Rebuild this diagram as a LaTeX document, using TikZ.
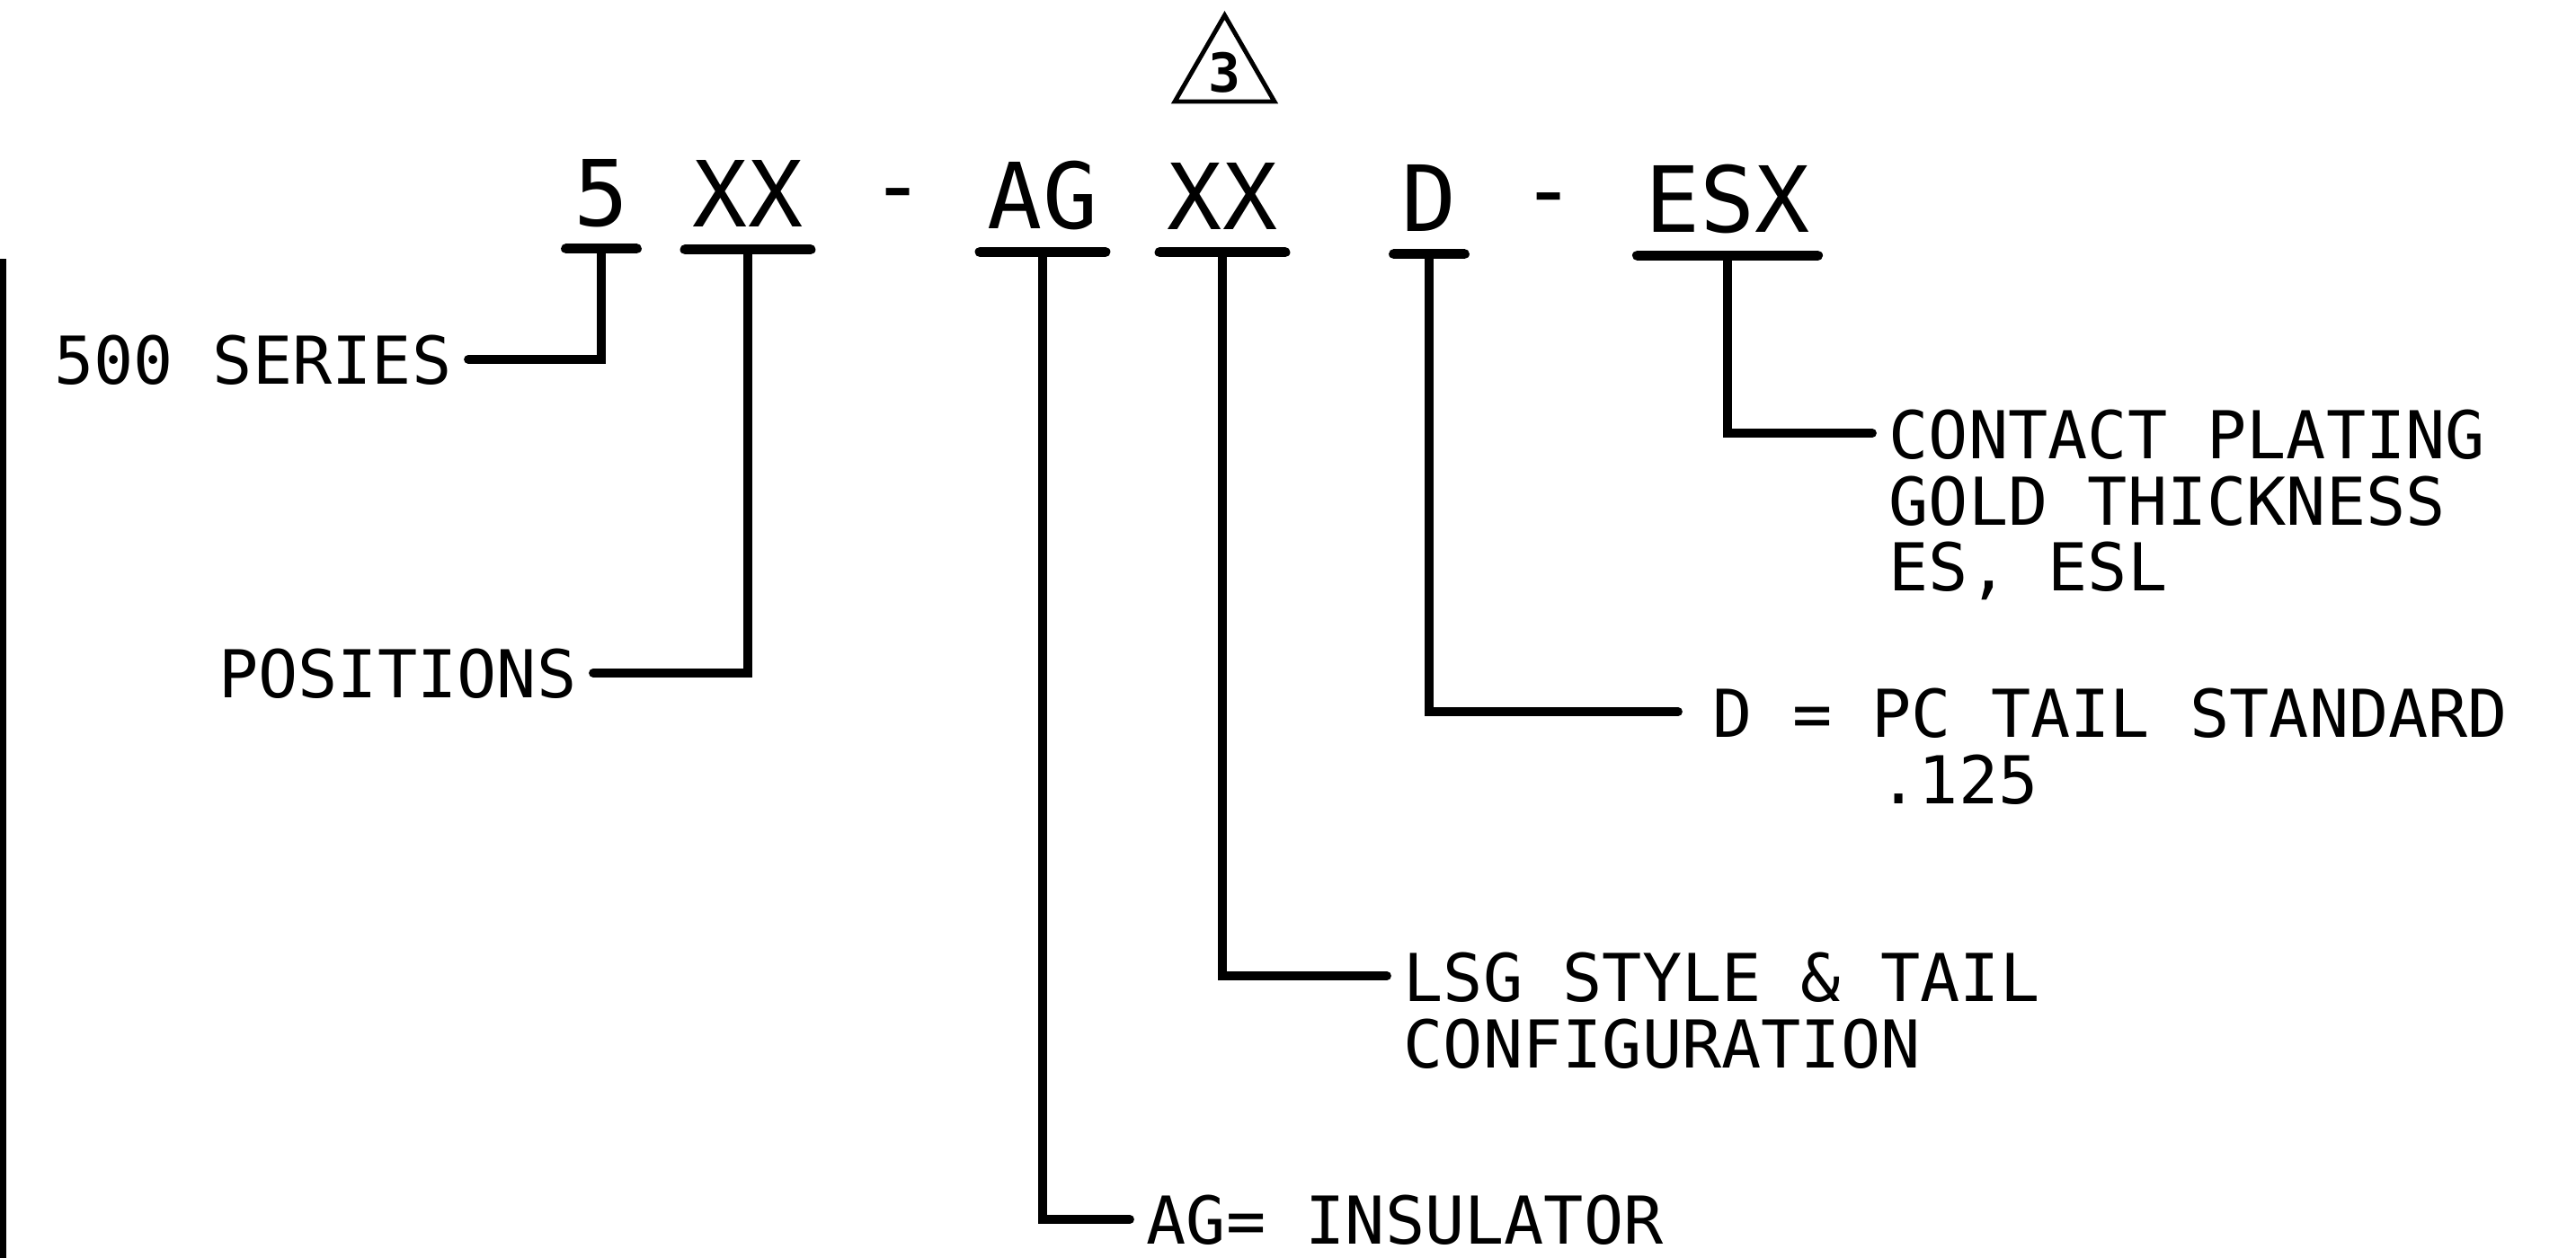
\documentclass[tikz,border=0pt]{standalone}
\usepackage{fontspec}
\usetikzlibrary{shapes.geometric}
\newfontfamily\plotfont{DejaVu Sans Mono}
\begin{document}
\begin{tikzpicture}[
    code/.style={font=\plotfont\fontsize{28.9}{30}\selectfont, inner xsep=0.08cm, inner ysep=0.25cm, text depth=0pt},
    hyph/.style={font=\plotfont\fontsize{28.9}{30}\selectfont, inner sep=0pt, anchor=base},
    lbl/.style={font=\plotfont\fontsize{20.9}{21}\selectfont, inner xsep=0.18cm, inner ysep=0pt, text depth=0pt, align=left},
    bar/.style={line width=3.2pt, line cap=round},
    lead/.style={line width=2.8pt, line cap=round, line join=miter}
  ]
    \useasboundingbox (0,0) rectangle (28.66,-14.00);

    % border at the left
    \draw[line width=2pt] (0.035,-2.88) -- (0.035,-14.00);

    % revision mark
    \node[draw, regular polygon, regular polygon sides=3, minimum size=1.28cm, inner sep=0pt, line width=1.4pt, font=\plotfont\bfseries\fontsize{17}{17}\selectfont] (rev) at (13.625,-0.81) {3};

    % part number
    \node[code] (c5) at (6.69,-2.14) {5};
    \node[code] (cpos) at (8.32,-2.15) {XX};
    \node[hyph] (h1) at (9.99,-2.41) {-};
    \node[code] (cins) at (11.60,-2.17) {AG};
    \node[code] (cstyle) at (13.60,-2.18) {XX};
    \node[code] (ctail) at (15.90,-2.20) {D};
    \node[hyph] (h2) at (17.23,-2.46) {-};
    \node[code] (cplate) at (19.22,-2.21) {ESX};

    \draw[bar] (c5.south west) -- (c5.south east);
    \draw[bar] (cpos.south west) -- (cpos.south east);
    \draw[bar] (cins.south west) -- (cins.south east);
    \draw[bar] (cstyle.south west) -- (cstyle.south east);
    \draw[bar] (ctail.south west) -- (ctail.south east);
    \draw[bar] (cplate.south west) -- (cplate.south east);

    % callouts
    \node[lbl, anchor=east] (l500) at (5.21,-4.00) {500 SERIES};
    \node[lbl, anchor=east] (lpos) at (6.60,-7.49) {POSITIONS};
    \node[lbl, anchor=west] (lins) at (12.57,-13.57) {AG= INSULATOR};
    \node[lbl, anchor=north west] (lstyle) at (15.43,-10.59) {LSG STYLE \& TAIL\\CONFIGURATION};
    \node[lbl, anchor=north west] (ltail) at (18.87,-7.65) {D = PC TAIL STANDARD\\\hphantom{D = }\hspace{0.08cm}.125};
    \node[lbl, anchor=north west] (lplate) at (20.83,-4.55) {CONTACT PLATING\\GOLD THICKNESS\\ES, ESL};

    \draw[lead] (c5.south) |- (l500.east);
    \draw[lead] (cpos.south) |- (lpos.east);
    \draw[lead] (cins.south) |- (lins.west);
    \draw[lead] (cstyle.south) |- ([yshift=-0.27cm]lstyle.north west);
    \draw[lead] (ctail.south) |- ([xshift=-0.2cm,yshift=-0.27cm]ltail.north west);
    \draw[lead] (cplate.south) |- ([yshift=-0.27cm]lplate.north west);
  \end{tikzpicture}
\end{document}
